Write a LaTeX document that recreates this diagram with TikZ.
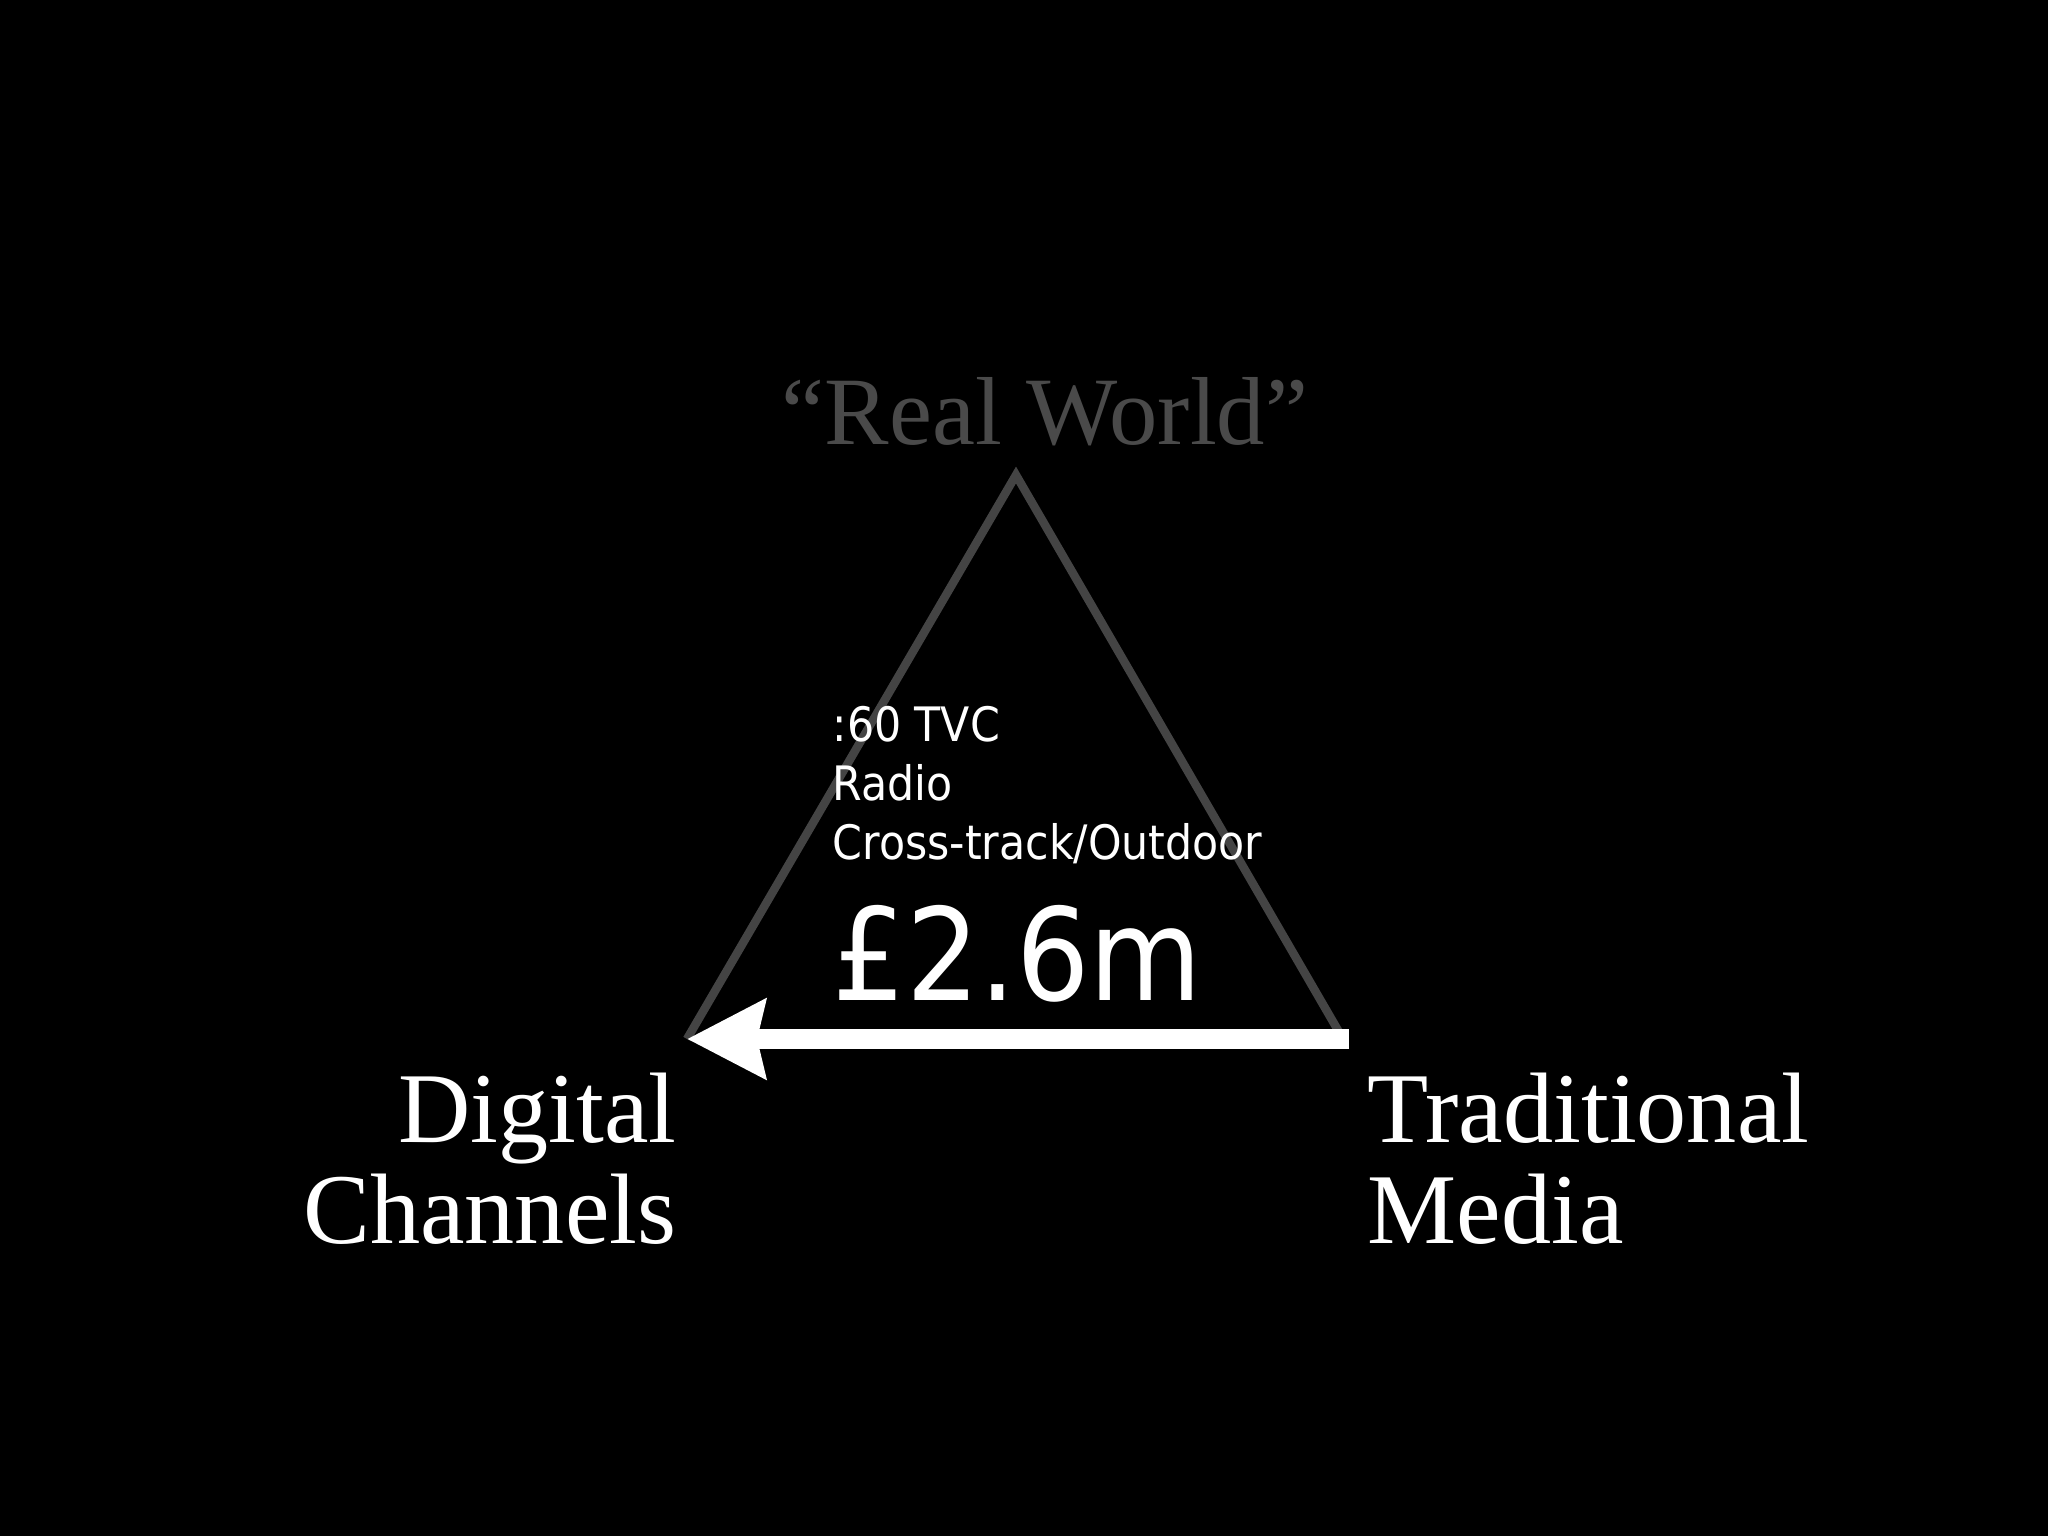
\documentclass[tikz,border=0pt]{standalone}
\usepackage{fontspec}
\setmainfont{Liberation Serif}
\newfontfamily\mediafont{DejaVu Sans Condensed}
\usetikzlibrary{arrows.meta}
\definecolor{sidegray}{HTML}{444444}
\definecolor{titlegray}{HTML}{4A4A4A}
\begin{document}
\begin{tikzpicture}[
	corner/.style={text=white, inner sep=0pt, font=\fontsize{28.5}{28.5}\selectfont},
	medialine/.style={text=white, inner sep=0pt, anchor=base west,
		font=\mediafont\fontsize{13.5}{16}\selectfont}]
	\fill[black] (0,0) rectangle (20.48,-15.36);
	\coordinate (apex) at (10.16,-4.75);
	\coordinate (dig) at (6.87,-10.39);
	\coordinate (trad) at (13.39,-10.32);
	\coordinate (start) at (13.49,-10.39);
	\draw[sidegray, line width=2.4pt] (dig) -- (apex) -- (trad);
	\draw[white, line width=5.6pt,
		-{Stealth[length=0.78cm, width=0.78cm, inset=0.08cm]}] (start) -- (dig);
	\node[text=titlegray, inner sep=0pt, anchor=base,
		font=\fontsize{27.5}{30}\selectfont] (real) at (10.45,-4.45) {“Real World”};
	\node[corner, anchor=base east, align=right] (digital) at (6.77,-12.43) {Digital\\Channels};
	\node[corner, anchor=base west, align=left] (traditional) at (13.67,-12.43) {Traditional\\Media};
	\foreach \t [count=\i] in {:60 TVC, Radio, Cross-track/Outdoor}
		\node[medialine] (m\i) at (8.32,{-7.42-0.585*(\i-1)}) {\t};
	\node[medialine, font=\mediafont\fontsize{36.5}{40}\selectfont] (spend) at (8.32,-10.0) {£2.6m};
\end{tikzpicture}
\end{document}
